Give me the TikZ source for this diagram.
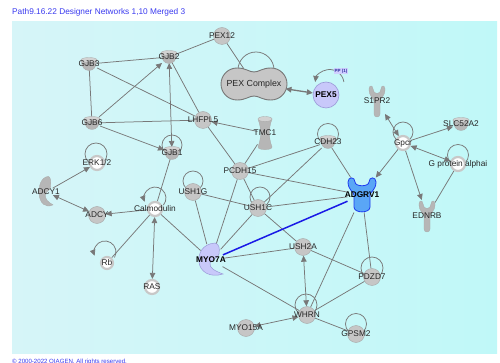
\documentclass[tikz,border=0pt]{standalone}
\usepackage{fontspec}
\setmainfont{Liberation Sans}
\usetikzlibrary{arrows.meta,shapes.geometric}
\pgfdeclarelayer{bglayer}\pgfdeclarelayer{edgelayer}\pgfdeclarelayer{shapelayer}
\pgfsetlayers{bglayer,edgelayer,shapelayer,main}
\definecolor{edgec}{HTML}{787878}
\definecolor{nodeg}{HTML}{C6C6C6}
\definecolor{nodegd}{HTML}{A8A8A8}
\definecolor{cupc}{HTML}{B6B6B6}
\definecolor{cuptop}{HTML}{D2D2D2}
\definecolor{ringc}{HTML}{C8C8C8}
\definecolor{lav}{HTML}{C8C8FA}
\definecolor{lavd}{HTML}{9A9AD8}
\definecolor{blueA}{HTML}{5AA6F6}
\definecolor{blueB}{HTML}{1E3CF0}
\definecolor{blueline}{HTML}{1A1AE6}
\definecolor{titlec}{HTML}{3A3AF0}
\definecolor{bgmid}{HTML}{E6FBFB}
\definecolor{bgright}{HTML}{C0F8F8}
\definecolor{bgleft}{HTML}{D6F5F8}
\definecolor{ppbg}{HTML}{D0D0FF}
\definecolor{pptext}{HTML}{3030A0}
\tikzset{
 x=1pt,y=1pt,
 >={Triangle[length=6pt,width=5.5pt]},
 lbl/.style={font=\fontsize{8.3}{9}\selectfont, text=black!85, inner sep=0},
 lblb/.style={font=\fontsize{8.3}{9}\selectfont\bfseries, text=black, inner sep=0},
 gnode/.style={circle, fill=nodeg, draw=nodegd, line width=0.4pt, minimum size=17pt, inner sep=0},
 wnode/.style={circle, fill=white, draw=ringc, line width=2.2pt, minimum size=14pt, inner sep=0},
 anch/.style={inner sep=0, outer sep=0},
 edge/.style={draw=edgec, line width=0.75pt},
 bluee/.style={draw=blueline, line width=1.5pt},
 cupshape/.style={fill=cupc, draw=nodegd, line width=0.3pt},
 cup/.pic={
   \path[cupshape] (-8,4) .. controls (-7,-3) and (-5,-6.5) .. (0,-6.5) .. controls (5,-6.5) and (7,-3) .. (8,4) -- cycle;
   \path[fill=cuptop, draw=nodegd, line width=0.3pt] (0,4) ellipse[x radius=8, y radius=2.5];
 },
 recep/.pic={
   \path[pic actions] (-8,12) .. controls (-8,4) and (-3,3) .. (-3,0) -- (-3,-13) .. controls (-3,-17) and (3,-17) .. (3,-13) -- (3,0) .. controls (3,3) and (8,4) .. (8,12) .. controls (8,16) and (4,16) .. (4,12) .. controls (4,6) and (-4,6) .. (-4,12) .. controls (-4,16) and (-8,16) .. (-8,12) -- cycle;
 },
 cresc/.pic={
   \path[pic actions] (4,17) .. controls (-9,16) and (-13,6) .. (-12,-2) .. controls (-11,-12) and (-1,-18) .. (12,-14) .. controls (4,-11) and (-2,-8) .. (-1,-3) .. controls (0,1) and (7,1) .. (8,6) .. controls (9,12) and (8,16) .. (4,17) -- cycle;
 },
}
\begin{document}
\begin{tikzpicture}
\useasboundingbox (0,0) rectangle (500,-363);
\begin{pgfonlayer}{bglayer}
\fill[white] (0,0) rectangle (500,-363);
\shade[left color=bgleft, middle color=bgmid, right color=bgright] (12,-22) rectangle (497,-353);
\end{pgfonlayer}
\node[anchor=west, font=\fontsize{8.3}{9}\selectfont, text=titlec, inner sep=0] (title) at (12,-12) {Path9.16.22 Designer Networks 1,10 Merged 3};
\node[anchor=west, font=\fontsize{6.1}{7}\selectfont, text=titlec, inner sep=0] (foot) at (12,-361.5) {© 2000-2022 QIAGEN. All rights reserved.};

% nodes
\node[gnode, label={[lbl]center:PEX12}] (pex12) at (222,-36) {};
\node[anch, ellipse, minimum width=66pt, minimum height=32pt, label={[font=\fontsize{8.8}{10}\selectfont, text=black!85, inner sep=0]center:PEX Complex}] (pexc) at (254,-84) {};
\node[circle, fill=lav, draw=lavd, line width=0.6pt, minimum size=26pt, inner sep=0, label={[lblb]center:PEX5}] (pex5) at (326,-95) {};
\node[anch, fill=ppbg, text=pptext, font=\fontsize{4.5}{5}\selectfont\bfseries, inner sep=1pt] (pp) at (341,-71) {PP (1)};
\node[anch, minimum width=16pt, minimum height=12pt, label={[lbl]center:GJB3}] (gjb3) at (89,-64) {};
\node[anch, minimum width=16pt, minimum height=12pt, label={[lbl]center:GJB2}] (gjb2) at (169,-57) {};
\node[anch, minimum width=16pt, minimum height=12pt, label={[lbl]center:GJB6}] (gjb6) at (92,-123) {};
\node[anch, minimum width=16pt, minimum height=12pt, label={[lbl]center:GJB1}] (gjb1) at (172,-153) {};
\node[anch, minimum width=16pt, minimum height=12pt, label={[lbl]center:CDH23}] (cdh23) at (328,-142) {};
\node[anch, minimum width=16pt, minimum height=12pt, label={[lbl]center:SLC52A2}] (slc) at (461,-124) {};
\node[anch, minimum width=15pt, minimum height=32pt, label={[lbl]center:TMC1}] (tmc1) at (265,-133) {};
\node[anch, minimum width=16pt, minimum height=31pt, label={[lbl]center:S1PR2}] (s1pr2) at (377,-101) {};
\node[anch, minimum width=16pt, minimum height=32pt, label={[lbl]center:EDNRB}] (ednrb) at (427,-216) {};
\node[anch, minimum width=29pt, minimum height=35pt, label={[lblb]center:ADGRV1}] (adgrv1) at (362,-195) {};
\node[anch, ellipse, minimum width=14pt, minimum height=31pt, label={[lbl]center:ADCY1}] (adcy1) at (46,-192) {};
\node[anch, ellipse, minimum width=25pt, minimum height=34pt, label={[lblb]center:MYO7A}] (myo7a) at (211,-260) {};
\node[gnode, label={[lbl]center:LHFPL5}] (lhfpl5) at (203,-120) {};
\node[gnode, label={[lbl]center:PCDH15}] (pcdh15) at (240,-171) {};
\node[gnode, label={[lbl]center:USH1G}] (ush1g) at (193,-192) {};
\node[gnode, label={[lbl]center:USH1C}] (ush1c) at (258,-208) {};
\node[gnode, label={[lbl]center:ADCY}] (adcy) at (97,-215) {};
\node[gnode, label={[lbl]center:USH2A}] (ush2a) at (303,-247) {};
\node[gnode, label={[lbl]center:PDZD7}] (pdzd7) at (372,-277) {};
\node[gnode, label={[lbl]center:WHRN}] (whrn) at (307,-315) {};
\node[gnode, label={[lbl]center:MYO15A}] (myo15a) at (246,-328) {};
\node[gnode, label={[lbl]center:GPSM2}] (gpsm2) at (356,-334) {};
\node[wnode, label={[lbl]center:Gpcr}] (gpcr) at (403,-143) {};
\node[wnode, label={[lbl]center:G protein alphai}] (gprot) at (458,-164) {};
\node[wnode, label={[lbl]center:ERK1/2}] (erk) at (97,-163) {};
\node[wnode, label={[lbl]center:Calmodulin}] (calm) at (155,-209) {};
\node[wnode, minimum size=12pt, label={[lbl]center:Rb}] (rb) at (107,-263) {};
\node[wnode, label={[lbl]center:RAS}] (ras) at (152,-287) {};

% shapes
\begin{pgfonlayer}{shapelayer}
\pic at (gjb3.center) {cup};
\pic at (gjb2.center) {cup};
\pic at (gjb6.center) {cup};
\pic at (gjb1.center) {cup};
\pic at (cdh23.center) {cup};
\pic at (slc.center) {cup};
\begin{scope}[shift={(tmc1.center)}]
\path[fill=cupc, draw=nodegd, line width=0.3pt] (-7,14) .. controls (-3.5,4) and (-3.5,-4) .. (-7,-14) .. controls (-7,-17.5) and (7,-17.5) .. (7,-14) .. controls (3.5,-4) and (3.5,4) .. (7,14) -- cycle;
\path[fill=cuptop, draw=nodegd, line width=0.3pt] (0,14) ellipse[x radius=7, y radius=2.5];
\end{scope}
\pic[fill=cupc, draw=nodegd, line width=0.3pt] at (s1pr2.center) {recep};
\pic[fill=cupc, draw=nodegd, line width=0.3pt] at (ednrb.center) {recep};
\begin{scope}[shift={(adgrv1.center)}]
\path[fill=blueA, draw=blueB, line width=0.8pt] (-14,13) .. controls (-14,5) and (-8,3) .. (-8,0) -- (-8,-12) .. controls (-8,-18.5) and (8,-18.5) .. (8,-12) -- (8,0) .. controls (8,3) and (14,5) .. (14,13) .. controls (14,18.5) and (7,18.5) .. (7,13) .. controls (7,8) and (-7,8) .. (-7,13) .. controls (-7,18.5) and (-14,18.5) .. (-14,13) -- cycle;
\end{scope}
\pic[fill=cupc, draw=nodegd, line width=0.3pt, xscale=0.58, yscale=0.92] at (adcy1.center) {cresc};
\pic[fill=lav, draw=lavd, line width=0.5pt] at (myo7a.center) {cresc};
\begin{scope}[shift={(pexc.center)}]
\path[fill=nodeg, draw=edgec, line width=0.9pt] (0,12) .. controls (-5,12) and (-8,16) .. (-17,16) arc[start angle=90, end angle=270, radius=16] .. controls (-8,-16) and (-5,-12) .. (0,-12) .. controls (5,-12) and (8,-16) .. (17,-16) arc[start angle=-90, end angle=90, radius=16] .. controls (8,16) and (5,12) .. (0,12) -- cycle;
\end{scope}
\end{pgfonlayer}

% edges
\begin{pgfonlayer}{edgelayer}
\draw[edge] (pex12) -- (gjb2);
\draw[edge] (pex12) -- (pexc);
\draw[edge, line width=1.3pt, <->] (pexc) -- (pex5);
\draw[edge] (gjb3) -- (gjb2);
\draw[edge] (gjb3) -- (gjb6);
\draw[edge] (gjb3) -- (lhfpl5);
\draw[edge, ->] (gjb6) -- (gjb2);
\draw[edge] (gjb6) -- (lhfpl5);
\draw[edge, ->] (gjb6) -- (gjb1);
\draw[edge, <->] (gjb2) -- (gjb1);
\draw[edge] (gjb2) -- (lhfpl5);
\draw[edge, ->] (tmc1) -- (lhfpl5);
\draw[edge] (lhfpl5) -- (pcdh15);
\draw[edge] (tmc1) -- (pcdh15);
\draw[edge] (pcdh15) -- (cdh23);
\draw[edge] (pcdh15) -- (adgrv1);
\draw[edge] (pcdh15) -- (ush1c);
\draw[edge] (pcdh15) -- (myo7a);
\draw[edge] (cdh23) -- (ush1c);
\draw[edge] (cdh23) -- (adgrv1);
\draw[edge] (ush1g) -- (ush1c);
\draw[edge] (ush1g) -- (myo7a);
\draw[edge] (ush1c) -- (myo7a);
\draw[edge] (ush1c) -- (ush2a);
\draw[edge] (ush1c) -- (adgrv1);
\draw[edge] (gjb1) -- (calm);
\draw[edge, ->] (calm) -- (adcy);
\draw[edge, <->] (adcy1) -- (adcy);
\draw[edge, ->] (adcy1) -- (erk);
\draw[edge, <->] (calm) -- (ras);
\draw[edge] (calm) -- (rb);
\draw[edge] (calm) -- (myo7a);
\draw[bluee] (myo7a) -- (adgrv1);
\draw[edge] (myo7a) -- (ush2a);
\draw[edge] (myo7a) -- (whrn);
\draw[edge, <->] (ush2a) -- (whrn);
\draw[edge] (ush2a) -- (pdzd7);
\draw[edge] (whrn) -- (pdzd7);
\draw[edge] (whrn) -- (gpsm2);
\draw[edge, <->] (myo15a) -- (whrn);
\draw[edge] (whrn) -- (adgrv1);
\draw[edge] (pdzd7) -- (adgrv1);
\draw[edge, <->] (gpcr) -- (s1pr2);
\draw[edge, ->] (gpcr) -- (slc);
\draw[edge, <->] (gpcr) -- (gprot);
\draw[edge, ->] (gpcr) -- (ednrb);
\draw[edge, ->] (gpcr) -- (adgrv1);
\draw[edge] (gprot) -- (ednrb);
% self loops
\draw[edge] ([shift={(2,14)}]pexc.center) circle[radius=18];
\draw[edge, ->] ([shift={(17.9,13)}]pex5.center) arc[start angle=8, end angle=172, radius=14.5];
\draw[edge] ([shift={(0,8)}]gjb1.center) circle[radius=10];
\draw[edge] ([shift={(0,11)}]ush1g.center) circle[radius=10];
\draw[edge] ([shift={(2,11)}]ush1c.center) circle[radius=10];
\draw[edge] ([shift={(0,8)}]cdh23.center) circle[radius=10.5];
\draw[edge] ([shift={(0,11)}]gpcr.center) circle[radius=10];
\draw[edge] ([shift={(0,9)}]gprot.center) circle[radius=10.5];
\draw[edge] ([shift={(-1,9)}]erk.center) circle[radius=11];
\draw[edge] ([shift={(-1,10)}]whrn.center) circle[radius=11];
\draw[edge] ([shift={(0,9)}]pdzd7.center) circle[radius=11];
\draw[edge] ([shift={(0,10)}]gpsm2.center) circle[radius=10.5];
\draw[edge, ->] ([shift={(8.4,3.9)}]calm.center) arc[start angle=-40, end angle=200, radius=11];
\draw[edge, ->] ([shift={(7.5,5.5)}]rb.center) arc[start angle=-30, end angle=200, radius=11];
\end{pgfonlayer}
\end{tikzpicture}
\end{document}
